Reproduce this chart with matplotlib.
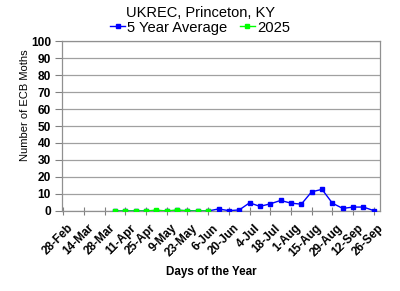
import numpy as np
import matplotlib.pyplot as plt
import matplotlib.transforms as mtransforms

plt.rcParams['font.family'] = ['Liberation Sans', 'DejaVu Sans']

# weekly categories, 28-Feb .. 26-Sep (labels on every second week)
tick_labels = ['28-Feb', '14-Mar', '28-Mar', '11-Apr', '25-Apr', '9-May', '23-May',
               '6-Jun', '20-Jun', '4-Jul', '18-Jul', '1-Aug', '15-Aug', '29-Aug',
               '12-Sep', '26-Sep']

# 5 year average, weeks 4-Apr .. 26-Sep
avg_start = 5
avg_vals = [0, 0, 0, 0, 0, 0, 0.3, 0.2, 0, 0,
            1.2, 0.2, 0.6, 4.8, 2.7, 4.2, 6.2, 4.6, 4.0, 11.3,
            12.7, 4.6, 1.5, 2.3, 2.3, 0.2]

# 2025, weeks 4-Apr .. 6-Jun
cur_start = 5
cur_vals = [0, 0, 0, 0, 0.5, 0, 0.6, 0, 0, 0]

avg_x = np.arange(avg_start, avg_start + len(avg_vals))
cur_x = np.arange(cur_start, cur_start + len(cur_vals))

fig = plt.figure(figsize=(4, 2.91), dpi=100)
ax = fig.add_axes([0.155, 0.275, 0.795, 0.584])

ax.plot(avg_x, avg_vals, '-s', color='#0000FF', lw=1.0, ms=2.8,
        label='5 Year Average', zorder=3)
ax.plot(cur_x, cur_vals, '-s', color='#00FF00', lw=1.0, ms=2.8,
        label='2025', zorder=4)

ax.set_xlim(-0.12, 30.6)
ax.set_ylim(0, 100)
ax.set_yticks(np.arange(0, 101, 10))
ax.set_xticks(np.arange(0, 31, 2))
ax.grid(axis='y', color='#A0A0A0', lw=0.9)
ax.tick_params(axis='y', direction='out', length=5, color='#808080', pad=3)
ax.tick_params(axis='x', direction='inout', length=6, color='#808080', pad=5)
ax.set_xticklabels(tick_labels, rotation=45, ha='right', rotation_mode='anchor',
                   fontsize=8.5, fontweight='bold')
# nudge the rotated labels a little to the right, as in the original
shift = mtransforms.ScaledTranslation(4 / 100, 0, fig.dpi_scale_trans)
for lab in ax.get_xticklabels():
    lab.set_transform(lab.get_transform() + shift)
for lab in ax.get_yticklabels():
    lab.set_fontsize(8.6)
    lab.set_fontweight('bold')
for s in ax.spines.values():
    s.set_color('#909090')
    s.set_linewidth(0.9)

ax.set_xlabel('Days of the Year', fontsize=8.4, fontweight='bold')
ax.xaxis.set_label_coords(0.47, -0.324)
ax.set_ylabel('Number of ECB Moths', fontsize=8.0)
ax.yaxis.set_label_coords(-0.10, 0.62)

fig.text(0.5, 0.955, 'UKREC, Princeton, KY', ha='center', va='center', fontsize=10.5)
fig.legend(loc='center', bbox_to_anchor=(0.5, 0.905), ncol=2, frameon=False,
           fontsize=10.6, handlelength=1.0, handletextpad=0.15, columnspacing=0.85,
           borderpad=0, markerscale=0.8)

fig.savefig('out.png', dpi=100)
